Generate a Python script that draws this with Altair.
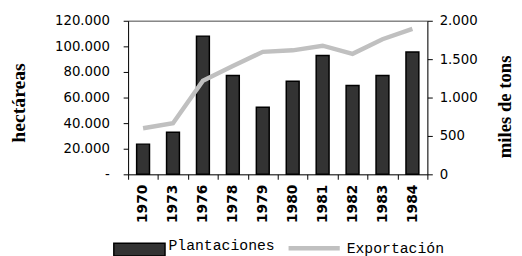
import altair as alt
import pandas as pd

years = ["1970", "1973", "1976", "1978", "1979", "1980", "1981", "1982", "1983", "1984"]
plantaciones = [23600, 32800, 108000, 77200, 52500, 72800, 92800, 69500, 77200, 95600]
exportacion = [600, 665, 1220, 1410, 1595, 1615, 1675, 1570, 1760, 1895]
series = ["Plantaciones", "Exportación"]

df = pd.DataFrame({"year": years, "plant": plantaciones, "exp": exportacion,
                   "s1": series[0], "s2": series[1]})

x_enc = alt.X(
    "year:N",
    sort=years,
    scale=alt.Scale(paddingInner=0, paddingOuter=0),
    axis=alt.Axis(
        title=None,
        labelAngle=270,
        labelFont="DejaVu Sans",
        labelFontWeight="bold",
        labelFontSize=14,
        labelColor="black",
        labelPadding=5,
        tickBand="extent",
        tickSize=5,
        tickColor="black",
        domainColor="black",
        labelAlign="right",
        labelBaseline="middle",
        labelOverlap=False,
    ),
)

left_labels = "datum.value == 0 ? '-\u2007\u2007' : replace(format(datum.value, ','), ',', '.')"
right_labels = "datum.value == 0 ? '0' : replace(format(datum.value, ','), ',', '.')"

bars = alt.Chart(df).mark_bar(
    width=alt.RelativeBandSize(0.43), stroke="black", strokeWidth=1.5
).encode(
    x=x_enc,
    y=alt.Y(
        "plant:Q",
        scale=alt.Scale(domain=[0, 120000], nice=False),
        axis=alt.Axis(
            title="hectáreas",
            titleFont="Liberation Serif",
            titleFontSize=20,
            titleFontWeight="bold",
            titleColor="black",
            titleAngle=270,
            titleBaseline="middle",
            titleAlign="center",
            titleX=-111,
            titleY=83,
            values=[0, 20000, 40000, 60000, 80000, 100000, 120000],
            labelExpr=left_labels,
            labelFont="DejaVu Sans",
            labelFontSize=13.5,
            labelColor="black",
            labelPadding=14,
            labelOverlap=False,
            tickSize=5,
            tickColor="black",
            domainColor="black",
            grid=True,
            gridColor="#888888",
            gridWidth=1.5,
            gridOpacity={"condition": {"test": "datum.value == 120000", "value": 1}, "value": 0},
        ),
    ),
    fill=alt.Fill(
        "s1:N",
        scale=alt.Scale(domain=[series[0]], range=["#333333"]),
        legend=alt.Legend(
            title=None,
            orient="none",
            legendX=4,
            legendY=225,
            padding=0,
            symbolType="M-4,-1H4V1H-4Z",
            symbolSize=169,
            symbolStrokeColor="black",
            symbolStrokeWidth=1.5,
            labelOffset=22,
            labelBaseline="alphabetic",
            labelFont="Liberation Mono",
            labelFontSize=15,
            labelColor="black",
        ),
    ),
)

line = alt.Chart(df).mark_line(strokeWidth=4.5).encode(
    x=x_enc,
    y=alt.Y(
        "exp:Q",
        scale=alt.Scale(domain=[0, 2000], nice=False),
        axis=alt.Axis(
            title="miles de tons",
            orient="right",
            titleFont="Liberation Serif",
            titleFontSize=19,
            titleFontWeight="bold",
            titleColor="black",
            titleAngle=270,
            titleBaseline="middle",
            titleAlign="center",
            titleX=78,
            titleY=87,
            values=[0, 500, 1000, 1500, 2000],
            labelExpr=right_labels,
            labelFont="DejaVu Sans",
            labelFontSize=13.5,
            labelColor="black",
            labelPadding=7,
            labelOverlap=False,
            tickSize=5,
            tickColor="black",
            domainColor="black",
            grid=False,
        ),
    ),
    stroke=alt.Stroke(
        "s2:N",
        scale=alt.Scale(domain=[series[1]], range=["#c0c0c0"]),
        legend=alt.Legend(
            title=None,
            orient="none",
            legendX=180,
            legendY=222,
            padding=0,
            symbolType="M-4,0H4",
            symbolSize=169,
            symbolStrokeWidth=4.5,
            labelOffset=24,
            labelFont="Liberation Mono",
            labelFontSize=15,
            labelColor="black",
        ),
    ),
)

chart = (
    alt.layer(bars, line)
    .resolve_scale(y="independent", fill="independent", stroke="independent")
    .properties(
        width=304,
        height=156,
        autosize=alt.AutoSizeParams(type="none"),
        padding={"left": 122, "top": 11, "right": 88, "bottom": 81},
    )
    .configure_view(stroke=None)
    .configure(background="white")
)

chart.save("out.html", embed_options={"renderer": "svg", "actions": False})
